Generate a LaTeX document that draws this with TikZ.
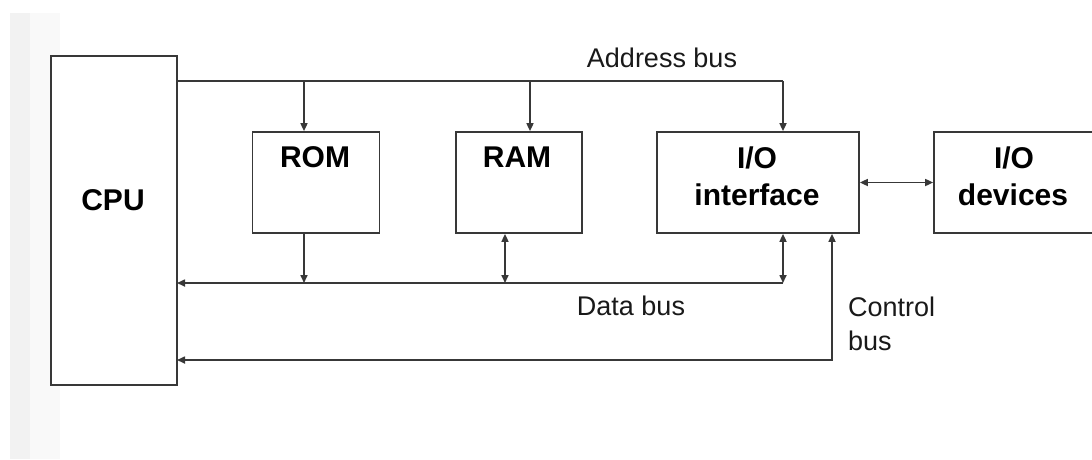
\documentclass[tikz,border=0pt]{standalone}
\usepackage{fontspec}
\setmainfont{Liberation Sans}
\usetikzlibrary{arrows.meta}
\begin{document}
\begin{tikzpicture}[x=1pt,y=-1pt,
  >={Triangle[length=8pt,width=7pt]},
  box/.style={draw=black!78, line width=1.7pt, fill=white, inner sep=0pt},
  bus/.style={draw=black!78, line width=1.6pt},
  boldlab/.style={font=\fontsize{30}{36}\selectfont\bfseries, text=black, anchor=base, inner sep=0pt},
  buslab/.style={font=\fontsize{27}{32}\selectfont, text=black!90, anchor=base, inner sep=0pt}]
\useasboundingbox (0,0) rectangle (1092,459);
\fill[black!5] (10,13) rectangle (30,459);
\fill[black!2.5] (30,13) rectangle (60,459);

% boxes
\node[box, minimum width=126pt, minimum height=329pt] (CPU) at (114,220.5) {};
\node[box, minimum width=127pt, minimum height=101pt] (ROM) at (316,182.5) {};
\node[box, minimum width=126pt, minimum height=101pt] (RAM) at (519,182.5) {};
\node[box, minimum width=202pt, minimum height=101pt] (IOI) at (758,182.5) {};
\node[box, minimum width=176pt, minimum height=101pt] (IOD) at (1022,182.5) {};

% labels
\node[boldlab] (cpulab) at (113,210) {CPU};
\node[boldlab] (romlab) at (315,167) {ROM};
\node[boldlab] (ramlab) at (517,167) {RAM};
\node[boldlab] (ioilab1) at (757,168) {I/O};
\node[boldlab] (ioilab2) at (757,205) {interface};
\node[boldlab] (iodlab1) at (1014,168) {I/O};
\node[boldlab] (iodlab2) at (1013,205) {devices};
\node[buslab] (ablab) at (662,67) {Address bus};
\node[buslab] (dblab) at (631,315) {Data bus};
\node[buslab, anchor=base west] (cblab1) at (848,316) {Control};
\node[buslab, anchor=base west] (cblab2) at (848,350) {bus};

% address bus
\coordinate (ab0) at (177,81);
\coordinate (ab1) at (304,81);
\coordinate (ab2) at (530,81);
\coordinate (ab3) at (783,81);
\draw[bus] (ab0) -- (ab3);
\draw[bus,->] (ab1) -- (ab1 |- ROM.north);
\draw[bus,->] (ab2) -- (ab2 |- RAM.north);
\draw[bus,->] (ab3) -- (ab3 |- IOI.north);

% data bus
\coordinate (db0) at (177,283);
\coordinate (db1) at (304,283);
\coordinate (db2) at (505,283);
\coordinate (db3) at (783,283);
\draw[bus,->] (db3) -- (db0);
\draw[bus,->] (db1 |- ROM.south) -- (db1);
\draw[bus,<->] (db2 |- RAM.south) -- (db2);
\draw[bus,<->] (db3 |- IOI.south) -- (db3);

% control bus
\coordinate (cb0) at (177,360);
\coordinate (cb1) at (832,360);
\draw[bus,<->] (cb0) -- (cb1) -- (cb1 |- IOI.south);

% I/O link
\draw[bus,<->] (IOI.east) -- (IOD.west);
\end{tikzpicture}
\end{document}
